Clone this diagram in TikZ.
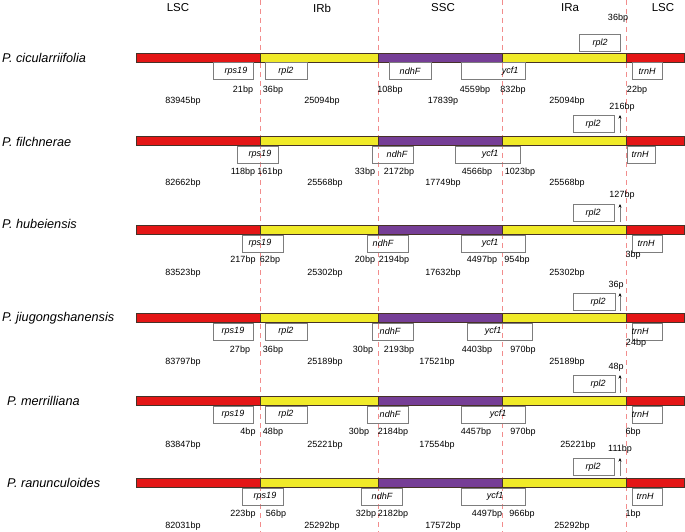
\documentclass[tikz,border=0pt]{standalone}
\usepackage{fontspec}
\setmainfont{Liberation Sans}
\usetikzlibrary{arrows.meta}
\definecolor{lscred}{RGB}{228,22,22}
\definecolor{iryel}{RGB}{240,234,40}
\definecolor{sscpur}{RGB}{118,62,150}
\definecolor{dashpink}{RGB}{242,140,140}
\definecolor{boxgray}{RGB}{125,125,125}
\definecolor{barline}{RGB}{70,50,40}
\tikzset{
 hdr/.style={font=\fontsize{11.5}{12}\selectfont, inner sep=0},
 spec/.style={font=\fontsize{12.7}{13}\selectfont\itshape, anchor=west, inner sep=0},
 bp/.style={font=\fontsize{9}{10}\selectfont, inner sep=0},
 gname/.style={font=\fontsize{9}{10}\selectfont\itshape, inner sep=0},
 genebox/.style={draw=boxgray, line width=0.8pt, minimum height=17pt, inner sep=0, anchor=north west},
 seg/.style={draw=barline, line width=0.6pt},
 sepline/.style={draw=dashpink, line width=0.9pt, dash pattern=on 5pt off 4pt},
 pointer/.style={-{Stealth[length=3.5pt,width=3pt,color=black]}, line width=0.7pt, draw=gray}
}
\newcommand\chbar[1]{%
 \path[seg,fill=lscred] (136,#1-4.5) rectangle (260,#1+4.5);
 \path[seg,fill=iryel] (260,#1-4.5) rectangle (378,#1+4.5);
 \path[seg,fill=sscpur] (378,#1-4.5) rectangle (502,#1+4.5);
 \path[seg,fill=iryel] (502,#1-4.5) rectangle (626,#1+4.5);
 \path[seg,fill=lscred] (626,#1-4.5) rectangle (684,#1+4.5);}
\newcommand\gbox[6]{%
 \node[genebox, minimum width={(#3)-(#2)}] (#1) at (#2,#4) {};
 \node[gname] (#1t) at (#6,#4+9) {#5};}
\newcommand\uparr[3]{%
 \coordinate (#1a) at (620,#2);
 \coordinate (#1b) at (620,#3);
 \draw[pointer] (#1a) -- (#1b);}
\begin{document}
\begin{tikzpicture}[x=1pt,y=-1pt]
\useasboundingbox (0,0) rectangle (685,532);
% separators
\foreach \xx [count=\i] in {260,378,502,626}{
 \coordinate (dt\i) at (\xx,0);
 \coordinate (db\i) at (\xx,532);
 \draw[sepline] (dt\i) -- (db\i);}
% headers
\node[hdr] (h1) at (178,8) {LSC};
\node[hdr] (h2) at (322,8) {IRb};
\node[hdr] (h3) at (443,8) {SSC};
\node[hdr] (h4) at (570,8) {IRa};
\node[hdr] (h5) at (663,8) {LSC};
% ---------- row 1
\chbar{58}
\node[spec] (s1) at (2,58) {P. cicularriifolia};
\gbox{ra1}{213}{253}{62.5}{rps19}{236}
\gbox{rb1}{265}{307}{62.5}{rpl2}{286}
\gbox{rc1}{389}{431}{62.5}{ndhF}{410}
\gbox{rd1}{461}{525}{62.5}{ycf1}{510}
\gbox{re1}{632}{662}{62.5}{trnH}{647}
\gbox{rf1}{579}{620}{34.5}{rpl2}{600}
\node[bp] (u1) at (618,18) {36bp};
\node[bp] (p1a) at (243,90) {21bp};
\node[bp] (p1b) at (273,90) {36bp};
\node[bp] (p1c) at (390,90) {108bp};
\node[bp] (p1d) at (475,90) {4559bp};
\node[bp] (p1e) at (513,90) {832bp};
\node[bp] (p1f) at (637,90) {22bp};
\node[bp] (l1a) at (183,101) {83945bp};
\node[bp] (l1b) at (322,101) {25094bp};
\node[bp] (l1c) at (443,101) {17839p};
\node[bp] (l1d) at (567,101) {25094bp};
% ---------- row 2
\chbar{141}
\node[spec] (s2) at (2,142) {P. filchnerae};
\gbox{ra2}{237}{278}{145.5}{rps19}{260}
\gbox{rc2}{372}{413}{145.5}{ndhF}{397}
\gbox{rd2}{455}{520}{145.5}{ycf1}{490}
\gbox{re2}{627}{655}{145.5}{trnH}{640}
\gbox{rf2}{573}{614}{115}{rpl2}{593}
\uparr{ar2}{133}{115}
\node[bp] (u2) at (622,107) {216bp};
\node[bp] (p2a) at (243,172) {118bp};
\node[bp] (p2b) at (270,172) {161bp};
\node[bp] (p2c) at (365,172) {33bp};
\node[bp] (p2d) at (399,172) {2172bp};
\node[bp] (p2e) at (477,172) {4566bp};
\node[bp] (p2f) at (520,172) {1023bp};
\node[bp] (l2a) at (183,183) {82662bp};
\node[bp] (l2b) at (325,183) {25568bp};
\node[bp] (l2c) at (443,183) {17749bp};
\node[bp] (l2d) at (567,183) {25568bp};
% ---------- row 3
\chbar{230}
\node[spec] (s3) at (2,224) {P. hubeiensis};
\gbox{ra3}{242}{283}{234.5}{rps19}{260}
\gbox{rc3}{367}{408}{234.5}{ndhF}{383}
\gbox{rd3}{461}{525}{234.5}{ycf1}{490}
\gbox{re3}{632}{662}{234.5}{trnH}{646}
\gbox{rf3}{573}{614}{204}{rpl2}{593}
\uparr{ar3}{222}{204}
\node[bp] (u3) at (622,195) {127bp};
\node[bp] (p3a) at (243,260) {217bp};
\node[bp] (p3b) at (270,260) {62bp};
\node[bp] (p3c) at (365,260) {20bp};
\node[bp] (p3d) at (394,260) {2194bp};
\node[bp] (p3e) at (482,260) {4497bp};
\node[bp] (p3f) at (517,260) {954bp};
\node[bp] (p3g) at (633,255) {3bp};
\node[bp] (l3a) at (183,273) {83523bp};
\node[bp] (l3b) at (325,273) {25302bp};
\node[bp] (l3c) at (443,273) {17632bp};
\node[bp] (l3d) at (567,273) {25302bp};
% ---------- row 4
\chbar{318}
\node[spec] (s4) at (2,318) {P. jiugongshanensis};
\gbox{ra4}{213}{253}{322.5}{rps19}{233}
\gbox{rb4}{265}{307}{322.5}{rpl2}{286}
\gbox{rc4}{372}{413}{322.5}{ndhF}{390}
\gbox{rd4}{467}{532}{322.5}{ycf1}{493}
\gbox{re4}{632}{662}{322.5}{trnH}{640}
\gbox{rf4}{573}{615}{293}{rpl2}{598}
\uparr{ar4}{311}{293}
\node[bp] (u4) at (616,285) {36p};
\node[bp] (p4a) at (240,350) {27bp};
\node[bp] (p4b) at (273,350) {36bp};
\node[bp] (p4c) at (363,350) {30bp};
\node[bp] (p4d) at (399,350) {2193bp};
\node[bp] (p4e) at (477,350) {4403bp};
\node[bp] (p4f) at (523,350) {970bp};
\node[bp] (p4g) at (636,343) {24bp};
\node[bp] (l4a) at (183,362) {83797bp};
\node[bp] (l4b) at (325,362) {25189bp};
\node[bp] (l4c) at (437,362) {17521bp};
\node[bp] (l4d) at (567,362) {25189bp};
% ---------- row 5
\chbar{401}
\node[spec] (s5) at (7,401) {P. merrilliana};
\gbox{ra5}{213}{253}{405.5}{rps19}{233}
\gbox{rb5}{265}{307}{405.5}{rpl2}{286}
\gbox{rc5}{367}{408}{405.5}{ndhF}{390}
\gbox{rd5}{461}{525}{405.5}{ycf1}{498}
\gbox{re5}{632}{662}{405.5}{trnH}{640}
\gbox{rf5}{573}{615}{375}{rpl2}{598}
\uparr{ar5}{393}{375}
\node[bp] (u5) at (616,367) {48p};
\node[bp] (p5a) at (248,432) {4bp};
\node[bp] (p5b) at (273,432) {48bp};
\node[bp] (p5c) at (359,432) {30bp};
\node[bp] (p5d) at (393,432) {2184bp};
\node[bp] (p5e) at (476,432) {4457bp};
\node[bp] (p5f) at (523,432) {970bp};
\node[bp] (p5g) at (633,432) {6bp};
\node[bp] (l5a) at (183,445) {83847bp};
\node[bp] (l5b) at (325,445) {25221bp};
\node[bp] (l5c) at (437,445) {17554bp};
\node[bp] (l5d) at (578,445) {25221bp};
% ---------- row 6
\chbar{483}
\node[spec] (s6) at (7,483) {P. ranunculoides};
\gbox{ra6}{242}{283}{487.5}{rps19}{265}
\gbox{rc6}{361}{402}{487.5}{ndhF}{382}
\gbox{rd6}{461}{525}{487.5}{ycf1}{495}
\gbox{re6}{632}{662}{487.5}{trnH}{645}
\gbox{rf6}{573}{614}{458}{rpl2}{593}
\uparr{ar6}{476}{458}
\node[bp] (u6) at (620,449) {111bp};
\node[bp] (p6a) at (243,514) {223bp};
\node[bp] (p6b) at (276,514) {56bp};
\node[bp] (p6c) at (366,514) {32bp};
\node[bp] (p6d) at (393,514) {2182bp};
\node[bp] (p6e) at (487,514) {4497bp};
\node[bp] (p6f) at (522,514) {966bp};
\node[bp] (p6g) at (633,514) {1bp};
\node[bp] (l6a) at (183,526) {82031bp};
\node[bp] (l6b) at (322,526) {25292bp};
\node[bp] (l6c) at (443,526) {17572bp};
\node[bp] (l6d) at (572,526) {25292bp};
\end{tikzpicture}
\end{document}
